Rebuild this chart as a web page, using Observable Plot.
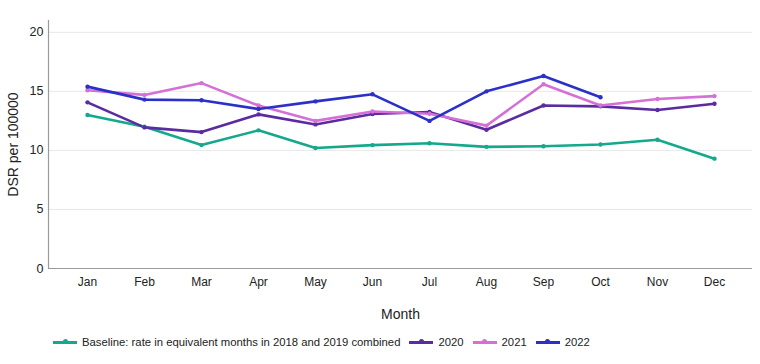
<!DOCTYPE html>
<html>
<head>
<meta charset="utf-8">
<script src="https://cdn.jsdelivr.net/npm/d3@7"></script>
<script src="https://cdn.jsdelivr.net/npm/@observablehq/plot@0.6"></script>
<style>
  body { margin: 0; background: #fff; font-family: "Liberation Sans", Arial, sans-serif; }
  #wrap { position: relative; width: 760px; height: 364px; }
  #legend { position: absolute; left: 53px; top: 336px; display: flex; align-items: center; font-size: 11.3px; color: #222; white-space: nowrap; }
  .item { display: flex; align-items: center; margin-right: 9px; }
  .sw { width: 24px; height: 3px; margin-right: 5px; position: relative; }
  .sw::after { content: ""; position: absolute; left: 9.5px; top: -1.5px; width: 5px; height: 5px; border-radius: 50%; background: inherit; }
</style>
</head>
<body>
<div id="wrap"><div id="chart"></div><div id="legend"></div></div>
<script>
const months = ["Jan","Feb","Mar","Apr","May","Jun","Jul","Aug","Sep","Oct","Nov","Dec"];
const seriesNames = ["Baseline: rate in equivalent months in 2018 and 2019 combined", "2020", "2021", "2022"];
const seriesColors = ["#14a98c", "#5a2ca0", "#d470d6", "#2b30c8"];
const baseline = [13.0, 12.0, 10.45, 11.7, 10.2, 10.45, 10.6, 10.3, 10.35, 10.5, 10.9, 9.3];
const y2020 = [14.07, 11.95, 11.55, 13.05, 12.2, 13.08, 13.25, 11.75, 13.8, 13.73, 13.42, 13.95];
const y2021 = [15.1, 14.7, 15.7, 13.8, 12.5, 13.3, 13.1, 12.1, 15.6, 13.8, 14.35, 14.6];
const y2022 = [15.4, 14.3, 14.25, 13.5, 14.15, 14.75, 12.5, 15.0, 16.3, 14.5];
const yTicks = [0, 5, 10, 15, 20];

const allValues = [baseline, y2020, y2021, y2022];
const data = [];
allValues.forEach((vals, i) => vals.forEach((v, j) => data.push({series: seriesNames[i], month: months[j], value: v})));

const chart = Plot.plot({
  width: 760,
  height: 364,
  marginTop: 20,
  marginBottom: 96,
  marginLeft: 48,
  marginRight: 8,
  style: { fontFamily: "Liberation Sans, Arial, sans-serif", fontSize: "12px", color: "#222" },
  x: { type: "point", domain: months, padding: 0.665 },
  y: { domain: [0, 21] },
  color: { domain: seriesNames, range: seriesColors },
  marks: [
    Plot.gridY(yTicks.slice(1), { stroke: "#e8e8e8", strokeOpacity: 1 }),
    Plot.axisY(yTicks, { tickSize: 0, tickPadding: 5, fontSize: 12.5, label: "DSR per 100000", labelAnchor: "center", labelOffset: 40, labelArrow: "none" }),
    Plot.axisX({ tickSize: 0, tickPadding: 9, fontSize: 12, label: "Month", labelAnchor: "center", labelOffset: 50, labelArrow: "none" }),
    Plot.line(data, { x: "month", y: "value", z: "series", stroke: "series", strokeWidth: 2.6, curve: "linear" }),
    Plot.dot(data, { x: "month", y: "value", fill: "series", r: 2.2 }),
    Plot.ruleY([0], { stroke: "#9a9a9a", strokeWidth: 1.2 }),
    Plot.frame({ anchor: "left", stroke: "#9a9a9a", strokeWidth: 1.2 })
  ]
});
chart.querySelectorAll("g[aria-label='y-axis label'] text, g[aria-label='x-axis label'] text").forEach(t => t.style.fontSize = "14px");
document.getElementById("chart").appendChild(chart);

const legend = document.getElementById("legend");
seriesNames.forEach((n, i) => {
  const it = document.createElement("div");
  it.className = "item";
  const sw = document.createElement("div");
  sw.className = "sw";
  sw.style.background = seriesColors[i];
  const tx = document.createElement("span");
  tx.textContent = n;
  it.appendChild(sw); it.appendChild(tx);
  legend.appendChild(it);
});
</script>
</body>
</html>
